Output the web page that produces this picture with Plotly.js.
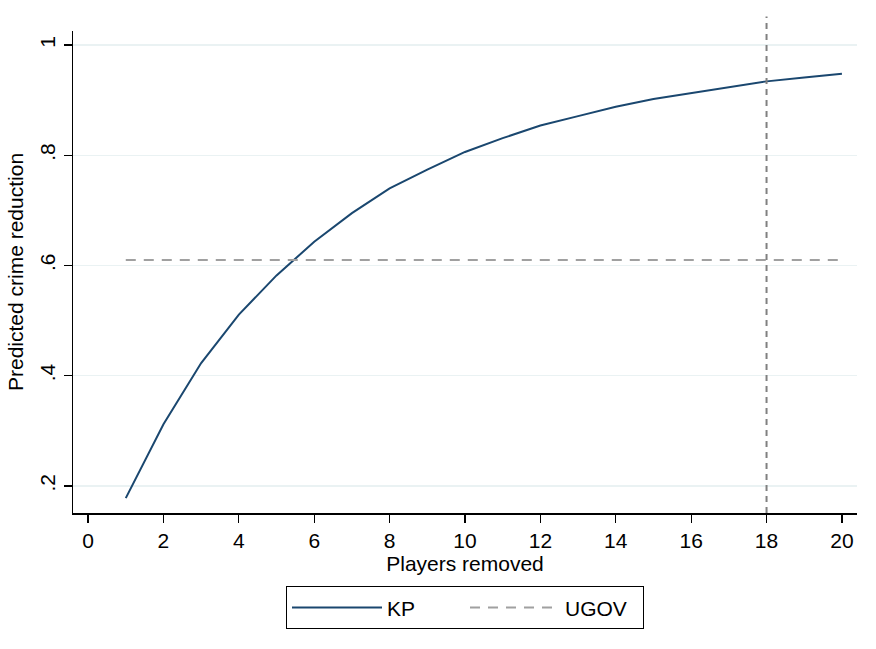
<!DOCTYPE html>
<html>
<head>
<meta charset="utf-8">
<script src="https://cdn.plot.ly/plotly-3.0.1.min.js"></script>
<style>html,body{margin:0;padding:0;background:#fff;}#chart{width:876px;height:649px;}</style>
</head>
<body>
<div id="chart"></div>
<script>
const playersRemoved = [1,2,3,4,5,6,7,8,9,10,11,12,13,14,15,16,17,18,19,20];
const kpReduction = [0.178,0.312,0.423,0.511,0.582,0.643,0.695,0.740,0.774,0.806,0.831,0.854,0.871,0.888,0.902,0.913,0.923,0.934,0.941,0.948];
const ugovReduction = [0.61,0.61,0.61,0.61,0.61,0.61,0.61,0.61,0.61,0.61,0.61,0.61,0.61,0.61,0.61,0.61,0.61,0.61,0.61,0.61];
const markerLineX = 18;
const xTickVals = [0,2,4,6,8,10,12,14,16,18,20];
const yTickVals = [0.2,0.4,0.6,0.8,1];
const yTickText = ['.2','.4','.6','.8','1'];

const font = {family: 'Liberation Sans, Arial, sans-serif', size: 21, color: '#000'};

const traces = [
  {x: playersRemoved, y: kpReduction, name: 'KP', type: 'scatter', mode: 'lines',
   line: {color: '#1a476f', width: 2}},
  {x: playersRemoved, y: ugovReduction, name: 'UGOV', type: 'scatter', mode: 'lines',
   line: {color: '#a0a0a0', width: 2, dash: '10px,8px'}}
];

const layout = {
  width: 876, height: 649,
  margin: {l: 73, r: 19, t: 31, b: 136},
  paper_bgcolor: '#fff', plot_bgcolor: '#fff',
  font: font,
  showlegend: true,
  xaxis: {
    range: [-0.4, 20.4], tickvals: xTickVals, ticks: 'outside', ticklen: 8, tickwidth: 1.2, tickcolor: '#000',
    showline: true, linecolor: '#000', linewidth: 1.5, showgrid: false, zeroline: false,
    title: {text: 'Players removed', font: font, standoff: 2}, tickfont: font
  },
  yaxis: {
    range: [0.151, 1.0254], tickvals: yTickVals, ticktext: yTickText, tickangle: -90,
    ticks: 'outside', ticklen: 8, tickwidth: 1.2, tickcolor: '#000',
    showline: true, linecolor: '#000', linewidth: 1.5, showgrid: true, gridcolor: '#eaf2f3', gridwidth: 1.5,
    zeroline: false, title: {text: 'Predicted crime reduction', font: font, standoff: 6}, tickfont: font
  },
  legend: {
    orientation: 'h', x: 0.5, xanchor: 'center', y: -0.152, yanchor: 'top',
    bordercolor: '#000', borderwidth: 1, bgcolor: '#fff', font: font,
    entrywidth: 73, itemwidth: 90
  },
  shapes: [
    {type: 'line', xref: 'x', yref: 'paper', x0: markerLineX, x1: markerLineX, y0: 0, y1: 1.03,
     line: {color: '#808080', width: 2, dash: '6px,5px'}}
  ]
};

Plotly.newPlot('chart', traces, layout, {displayModeBar: false, staticPlot: true});
</script>
</body>
</html>
